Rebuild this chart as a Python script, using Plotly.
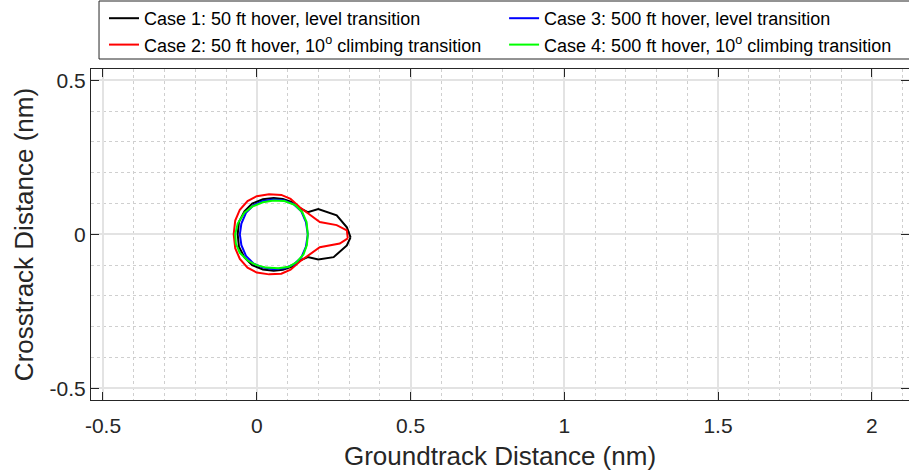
import plotly.graph_objects as go

# Case 1: 50 ft hover, level transition
case1_x = [0.305, 0.293, 0.260, 0.200, 0.166, 0.140, 0.115, 0.085, 0.055, 0.020, -0.015, -0.040, -0.058, -0.062,
           -0.058, -0.040, -0.015, 0.020, 0.055, 0.085, 0.115, 0.140, 0.166, 0.200, 0.250, 0.293, 0.305]
case1_y = [-0.010, 0.023, 0.062, 0.082, 0.072, 0.085, 0.105, 0.115, 0.118, 0.114, 0.100, 0.075, 0.040, 0.000,
           -0.040, -0.075, -0.100, -0.114, -0.118, -0.115, -0.105, -0.085, -0.074, -0.082, -0.074, -0.036, -0.010]

# Case 2: 50 ft hover, 10 deg climbing transition
case2_x = [0.296, 0.293, 0.260, 0.205, 0.140, 0.110, 0.080, 0.040, 0.000, -0.030, -0.055, -0.070, -0.075,
           -0.070, -0.055, -0.030, 0.000, 0.040, 0.080, 0.110, 0.140, 0.180, 0.205, 0.270, 0.296]
case2_y = [-0.013, 0.013, 0.030, 0.040, 0.088, 0.115, 0.128, 0.130, 0.124, 0.108, 0.080, 0.045, 0.000,
           -0.045, -0.080, -0.108, -0.124, -0.130, -0.128, -0.115, -0.088, -0.058, -0.042, -0.030, -0.013]

# Case 3: 500 ft hover, level transition
case3_x = [0.166, 0.160, 0.145, 0.120, 0.090, 0.055, 0.020, -0.010, -0.035, -0.050, -0.055,
           -0.050, -0.035, -0.010, 0.020, 0.055, 0.090, 0.120, 0.145, 0.160, 0.166]
case3_y = [0.000, 0.040, 0.075, 0.098, 0.110, 0.113, 0.108, 0.095, 0.070, 0.035, 0.000,
           -0.035, -0.070, -0.095, -0.108, -0.113, -0.110, -0.098, -0.075, -0.040, 0.000]

# Case 4: 500 ft hover, 10 deg climbing transition
case4_x = [0.166, 0.162, 0.148, 0.125, 0.090, 0.055, 0.020, -0.015, -0.040, -0.062, -0.070,
           -0.068, -0.055, -0.030, 0.000, 0.030, 0.070, 0.105, 0.130, 0.152, 0.163, 0.166]
case4_y = [0.000, 0.040, 0.072, 0.095, 0.108, 0.110, 0.104, 0.090, 0.070, 0.035, 0.000,
           -0.030, -0.060, -0.085, -0.100, -0.108, -0.110, -0.105, -0.090, -0.065, -0.035, 0.000]

names = ["Case 1: 50 ft hover, level transition",
         "Case 2: 50 ft hover, 10<sup>o</sup> climbing transition",
         "Case 3: 500 ft hover, level transition",
         "Case 4: 500 ft hover, 10<sup>o</sup> climbing transition"]
colors = ["#000000", "#ff0000", "#0000ff", "#00ff00"]
legend_ids = ["legend", "legend", "legend2", "legend2"]
xs = [case1_x, case2_x, case3_x, case4_x]
ys = [case1_y, case2_y, case3_y, case4_y]

x_ticks = [-0.5, 0, 0.5, 1, 1.5, 2]
x_ticklabels = ["-0.5", "0", "0.5", "1", "1.5", "2"]
y_ticks = [-0.5, 0, 0.5]
y_ticklabels = ["-0.5", "0", "0.5"]

fig = go.Figure()
for x, y, n, c, lg in zip(xs, ys, names, colors, legend_ids):
    fig.add_trace(go.Scatter(x=x, y=y, mode="lines", name=n, legend=lg,
                             line=dict(color=c, width=2)))

font = "Liberation Sans, Arial, Helvetica, sans-serif"
axis_common = dict(
    showline=True, linecolor="#262626", linewidth=1, mirror="allticks",
    ticks="inside", ticklen=8, tickcolor="#262626", tickwidth=1,
    showgrid=True, gridcolor="#e3e3e3", gridwidth=1.5,
    zeroline=False,
    tickfont=dict(family=font, size=21, color="#262626"),
    minor=dict(dtick=0.1, showgrid=True, gridcolor="#cfcfcf", griddash="dot", gridwidth=1, ticks=""),
)

legend_common = dict(orientation="v", y=1.21, xanchor="left", yanchor="top",
                     borderwidth=0, bgcolor="rgba(0,0,0,0)", itemwidth=30, tracegroupgap=0,
                     font=dict(family=font, size=18, color="#000000"))

fig.update_layout(
    width=909, height=475,
    margin=dict(l=91, r=0, t=69, b=75),
    paper_bgcolor="white", plot_bgcolor="white",
    font=dict(family=font, color="#262626"),
    xaxis=dict(range=[-0.539, 2.121], tickvals=x_ticks, ticktext=x_ticklabels, ticklabelstandoff=7,
               title=dict(text="Groundtrack Distance (nm)", font=dict(size=26, color="#262626"), standoff=10),
               **axis_common),
    yaxis=dict(range=[-0.538, 0.537], tickvals=y_ticks, ticktext=y_ticklabels,
               title=dict(text="Crosstrack Distance (nm)", font=dict(size=26, color="#262626"), standoff=8),
               **axis_common),
    legend=dict(x=0.0159, **legend_common),
    legend2=dict(x=0.505, **legend_common),
    shapes=[dict(type="rect", xref="paper", yref="paper", x0=0.0098, x1=1.02, y0=1.0302, y1=1.2054,
                 line=dict(color="#262626", width=1), fillcolor="rgba(0,0,0,0)", layer="above")],
    showlegend=True,
)

fig.write_html("out.html")
